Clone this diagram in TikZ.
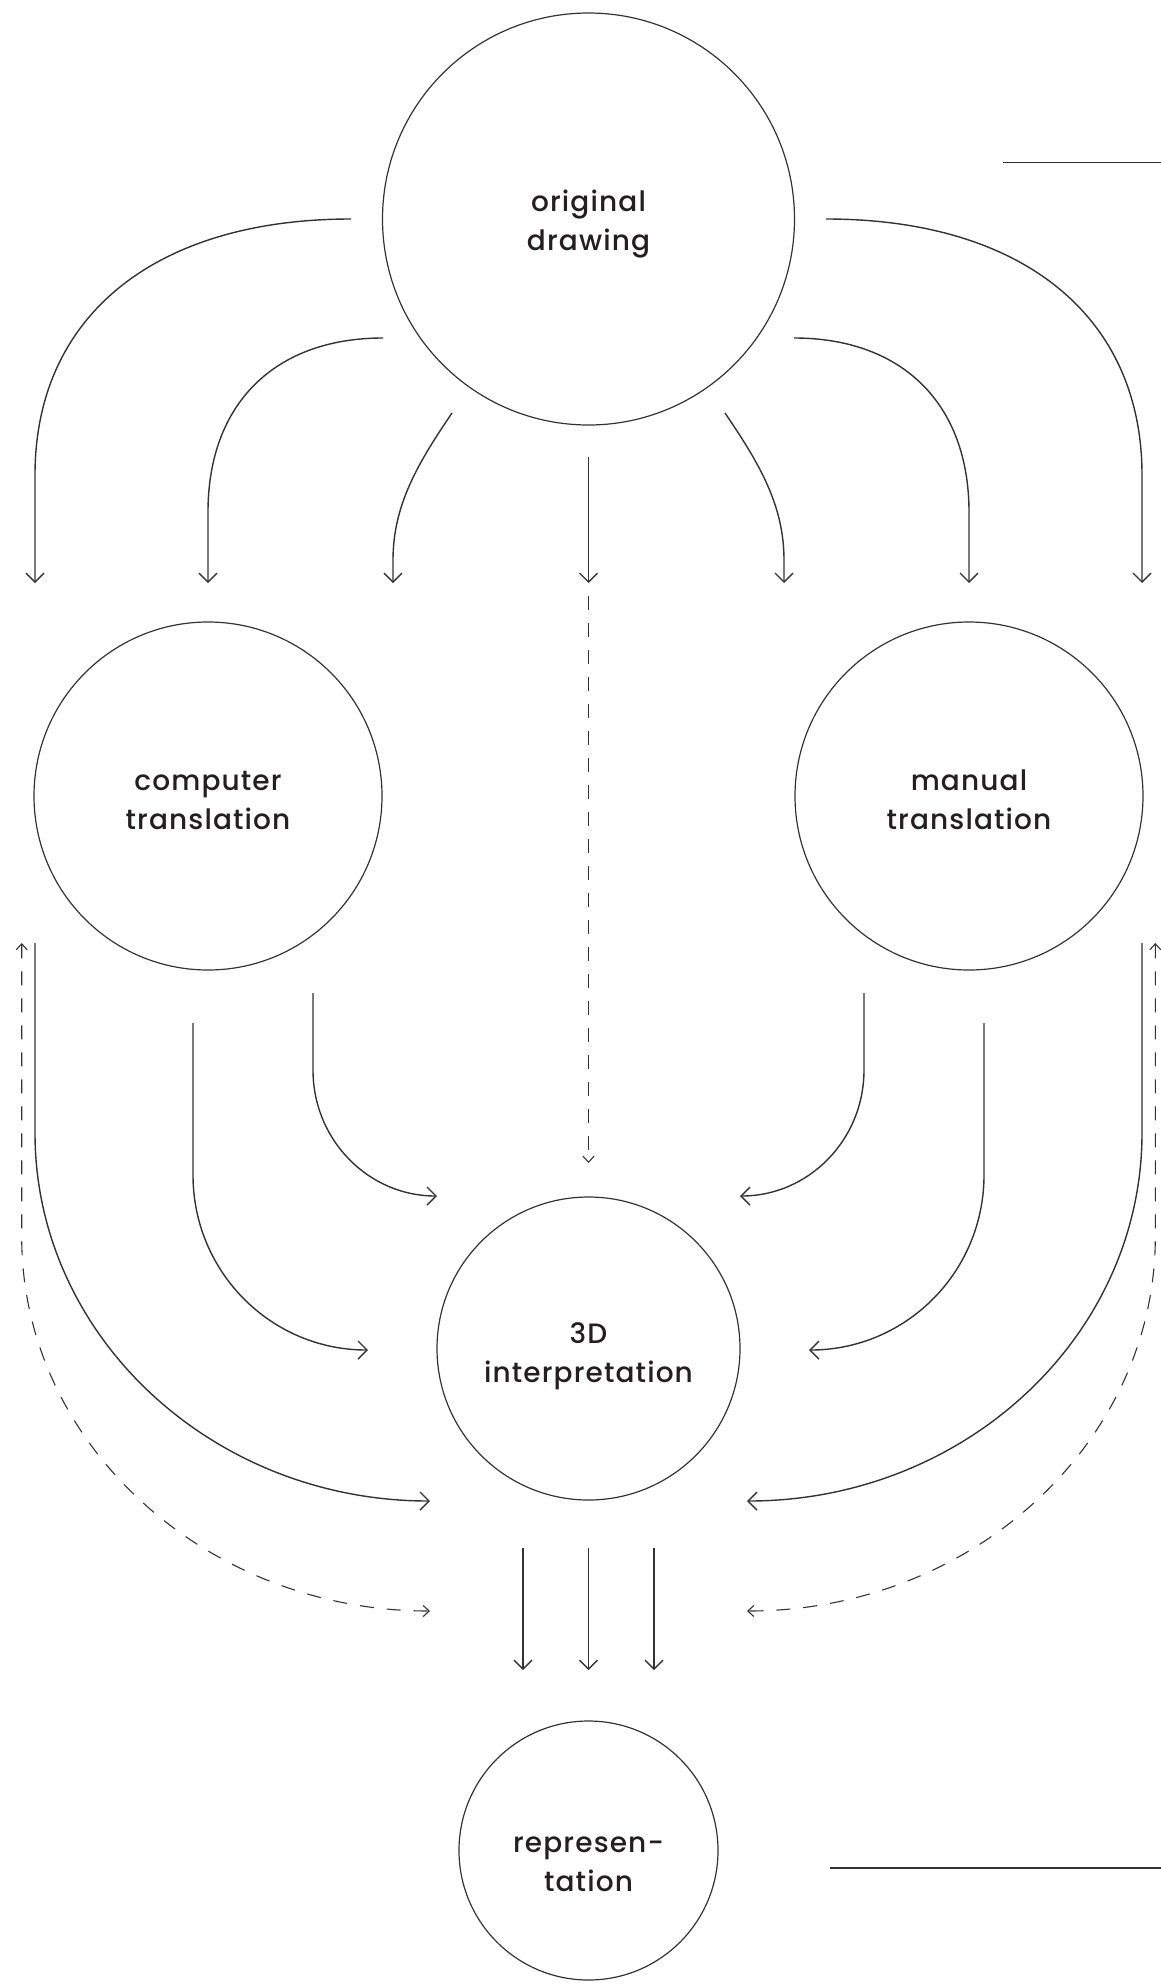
\documentclass[tikz,border=0pt]{standalone}
\usepackage{fontspec}
\setmainfont{Poppins Medium}[LetterSpace=4]
\usetikzlibrary{arrows.meta}
\definecolor{ink}{HTML}{333333}
\definecolor{txt}{HTML}{231F20}
\newcommand\circlbl[2]{\raisebox{#1}[0pt][0pt]{\begin{tabular}{@{}c@{}}#2\end{tabular}}}
\begin{document}
\begin{tikzpicture}[x=1pt,y=-1pt,
  blob/.style={circle, draw=ink, line width=1.2pt, inner sep=0pt, text=txt,
    font=\fontsize{28}{39}\selectfont},
  conn/.style={draw=ink, line width=1.4pt, line cap=butt,
    -{Straight Barb[length=9pt,width=18pt]}},
  dconn/.style={draw=ink, line width=1.1pt, dash pattern=on 14pt off 13pt,
    -{Straight Barb[length=6pt,width=11pt]}},
  ddconn/.style={draw=ink, line width=1.1pt, dash pattern=on 14pt off 13pt,
    {Straight Barb[length=6pt,width=11pt]}-{Straight Barb[length=6pt,width=11pt]}},
  plain/.style={draw=ink, line width=1.4pt}]
\useasboundingbox (0,0) rectangle (1161,1986);

% nodes
\node[blob, minimum size=412pt] (orig) at (588.5,219) {\circlbl{-10.7pt}{original\\drawing}};
\node[blob, minimum size=348pt] (comp) at (208,796) {\circlbl{-12.7pt}{computer\\translation}};
\node[blob, minimum size=348pt] (man) at (969,796) {\circlbl{-12.7pt}{manual\\translation}};
\node[blob, minimum size=303pt] (interp) at (588.5,1348.5) {\circlbl{-12.7pt}{3D\\interpretation}};
\node[blob, minimum size=259pt] (repr) at (588.5,1850.5) {\circlbl{-20pt}{represen-\\tation}};

% top fan: original drawing -> translations
\coordinate (t1s) at (351,219);   \coordinate (t1e) at (35,583);
\coordinate (t2s) at (383,338);   \coordinate (t2e) at (208,583);
\coordinate (t3s) at (452,413);   \coordinate (t3e) at (393,583);
\coordinate (t4s) at (588.5,457); \coordinate (t4e) at (588.5,583);
\coordinate (t5s) at (725,413);   \coordinate (t5e) at (784,583);
\coordinate (t6s) at (794,338);   \coordinate (t6e) at (969,583);
\coordinate (t7s) at (826,219);   \coordinate (t7e) at (1142,583);

\draw[conn] (t1s) .. controls (155,219) and (35,316) .. (35,475) -- (t1e);
\draw[conn] (t2s) .. controls (274.5,338) and (208,404) .. (208,512) -- (t2e);
\draw[conn] (t3s) .. controls (418,463) and (393,505) .. (393,560) -- (t3e);
\draw[conn] (t4s) -- (t4e);
\draw[conn] (t5s) .. controls (759,463) and (784,505) .. (784,560) -- (t5e);
\draw[conn] (t6s) .. controls (902.5,338) and (969,404) .. (969,512) -- (t6e);
\draw[conn] (t7s) .. controls (1022,219) and (1142,316) .. (1142,475) -- (t7e);

% dashed centre line
\coordinate (cds) at (588.5,596); \coordinate (cde) at (588.5,1163);
\draw[dconn] (cds) -- (cde);

% left side into 3D interpretation
\coordinate (la) at (313,993);  \coordinate (lae) at (437,1196);
\coordinate (lb) at (193,1023); \coordinate (lbe) at (368,1350);
\coordinate (lc) at (35,943);   \coordinate (lce) at (430,1501);
\coordinate (ld) at (21.7,943); \coordinate (lde) at (430,1611);
\draw[conn] (la) -- (313,1070) .. controls (313,1140) and (368.5,1196) .. (lae);
\draw[conn] (lb) -- (193,1175) .. controls (193,1272) and (271,1350) .. (lbe);
\draw[conn] (lc) -- (35,1133) .. controls (35,1336) and (212,1501) .. (lce);
\draw[ddconn] (ld) -- (21.7,1237) .. controls (21.7,1443) and (205,1611) .. (lde);

% right side into 3D interpretation
\coordinate (ra) at (864,993);  \coordinate (rae) at (740,1196);
\coordinate (rb) at (984,1023); \coordinate (rbe) at (809,1350);
\coordinate (rc) at (1142,943); \coordinate (rce) at (747,1501);
\coordinate (rd) at (1155.3,943); \coordinate (rde) at (747,1611);
\draw[conn] (ra) -- (864,1070) .. controls (864,1140) and (808.5,1196) .. (rae);
\draw[conn] (rb) -- (984,1175) .. controls (984,1272) and (906,1350) .. (rbe);
\draw[conn] (rc) -- (1142,1133) .. controls (1142,1336) and (965,1501) .. (rce);
\draw[ddconn] (rd) -- (1155.3,1237) .. controls (1155.3,1443) and (972,1611) .. (rde);

% three arrows to representation
\coordinate (d1s) at (523,1548);   \coordinate (d1e) at (523,1670);
\coordinate (d2s) at (588.5,1548); \coordinate (d2e) at (588.5,1670);
\coordinate (d3s) at (654,1548);   \coordinate (d3e) at (654,1670);
\draw[conn] (d1s) -- (d1e);
\draw[conn] (d2s) -- (d2e);
\draw[conn] (d3s) -- (d3e);

% rules at right edge
\coordinate (r1s) at (1003,162.7); \coordinate (r1e) at (1161,162.7);
\coordinate (r2s) at (830,1868);   \coordinate (r2e) at (1161,1868);
\draw[plain] (r1s) -- (r1e);
\draw[plain] (r2s) -- (r2e);
\end{tikzpicture}
\end{document}
